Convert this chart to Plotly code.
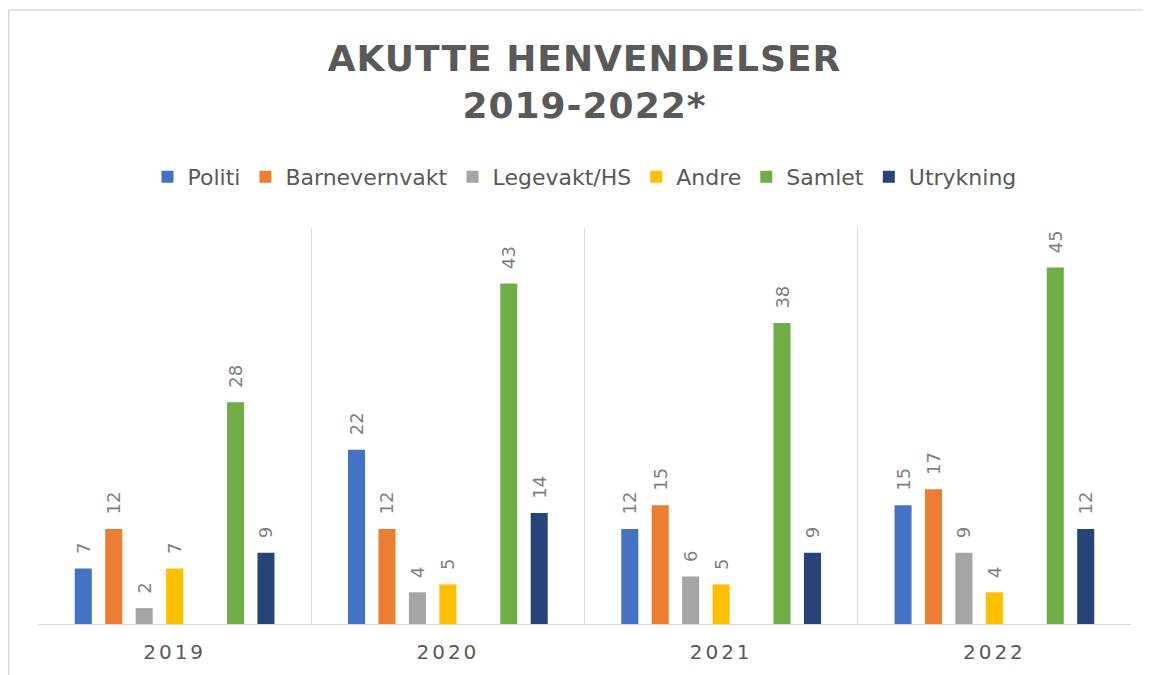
import plotly.graph_objects as go

years = ["2019", "2020", "2021", "2022"]
politi = [7, 22, 12, 15]
barnevernvakt = [12, 12, 15, 17]
legevakt = [2, 4, 6, 9]
andre = [7, 5, 5, 4]
samlet = [28, 43, 38, 45]
utrykning = [9, 14, 9, 12]

series = [
    ("Politi", politi, "#4472C4"),
    ("Barnevernvakt", barnevernvakt, "#ED7D31"),
    ("Legevakt/HS", legevakt, "#A5A5A5"),
    ("Andre", andre, "#FFC000"),
    (None, None, None),  # empty slot in the group
    ("Samlet", samlet, "#70AD47"),
    ("Utrykning", utrykning, "#264478"),
]

FONT = "'DejaVu Sans', sans-serif"
# page has an 8px body margin: figure coords = screen coords - 8
L, R, T, B = 30, 1123, 220, 616
W, H = 1151, 675
pw, ph = R - L, B - T

fig = go.Figure()
for name, vals, col in series:
    if vals is None:
        fig.add_trace(go.Bar(x=years, y=[None] * len(years), showlegend=False,
                             hoverinfo="skip", name=""))
        continue
    fig.add_trace(go.Bar(
        x=years, y=vals, name=name, marker=dict(color=col, line=dict(width=0)),
        text=["\u00a0\u00a0" + str(v) for v in vals], textposition="outside", textangle=-90,
        textfont=dict(family=FONT, size=18, color="#7F7F7F"),
        constraintext="none", cliponaxis=False,
    ))

fig.update_layout(
    width=W, height=H,
    margin=dict(l=L, r=W - R, t=T, b=H - B),
    paper_bgcolor="white", plot_bgcolor="white",
    barmode="group", bargap=0.22, bargroupgap=0.44,
    title=dict(
        text='<b><span style="letter-spacing:1px">AKUTTE HENVENDELSER<br>2019-2022*</span></b>',
        x=0.5, xref="paper", xanchor="center",
        y=1 - 63 / H, yref="container", yanchor="top",
        font=dict(family=FONT, size=36, color="#595959"),
    ),
    legend=dict(
        orientation="h", x=0.5, xanchor="center", y=(B - 169) / ph, yanchor="middle",
        font=dict(family=FONT, size=22, color="#595959"),
        itemwidth=30, traceorder="normal",
    ),
    xaxis=dict(
        type="category", tickson="boundaries", showgrid=True,
        gridcolor="#D9D9D9", gridwidth=1, ticks="",
        tickvals=years,
        ticktext=['<span style="letter-spacing:3px">%s</span>' % y for y in years],
        ticklabelstandoff=10,
        showline=True, linecolor="#D9D9D9", linewidth=1,
        tickfont=dict(family=FONT, size=20, color="#595959"),
        fixedrange=True,
    ),
    yaxis=dict(range=[0, 50], showgrid=False, showticklabels=False,
               zeroline=False, showline=False, fixedrange=True),
    shapes=[dict(type="rect", xref="paper", yref="paper",
                 x0=(0.75 - L) / pw, x1=(1170 - L) / pw,
                 y0=(B - 700) / ph, y1=(B - 2) / ph,
                 line=dict(color="#D9D9D9", width=1.5), fillcolor="rgba(0,0,0,0)",
                 layer="below")],
)
fig.write_html("out.html")
